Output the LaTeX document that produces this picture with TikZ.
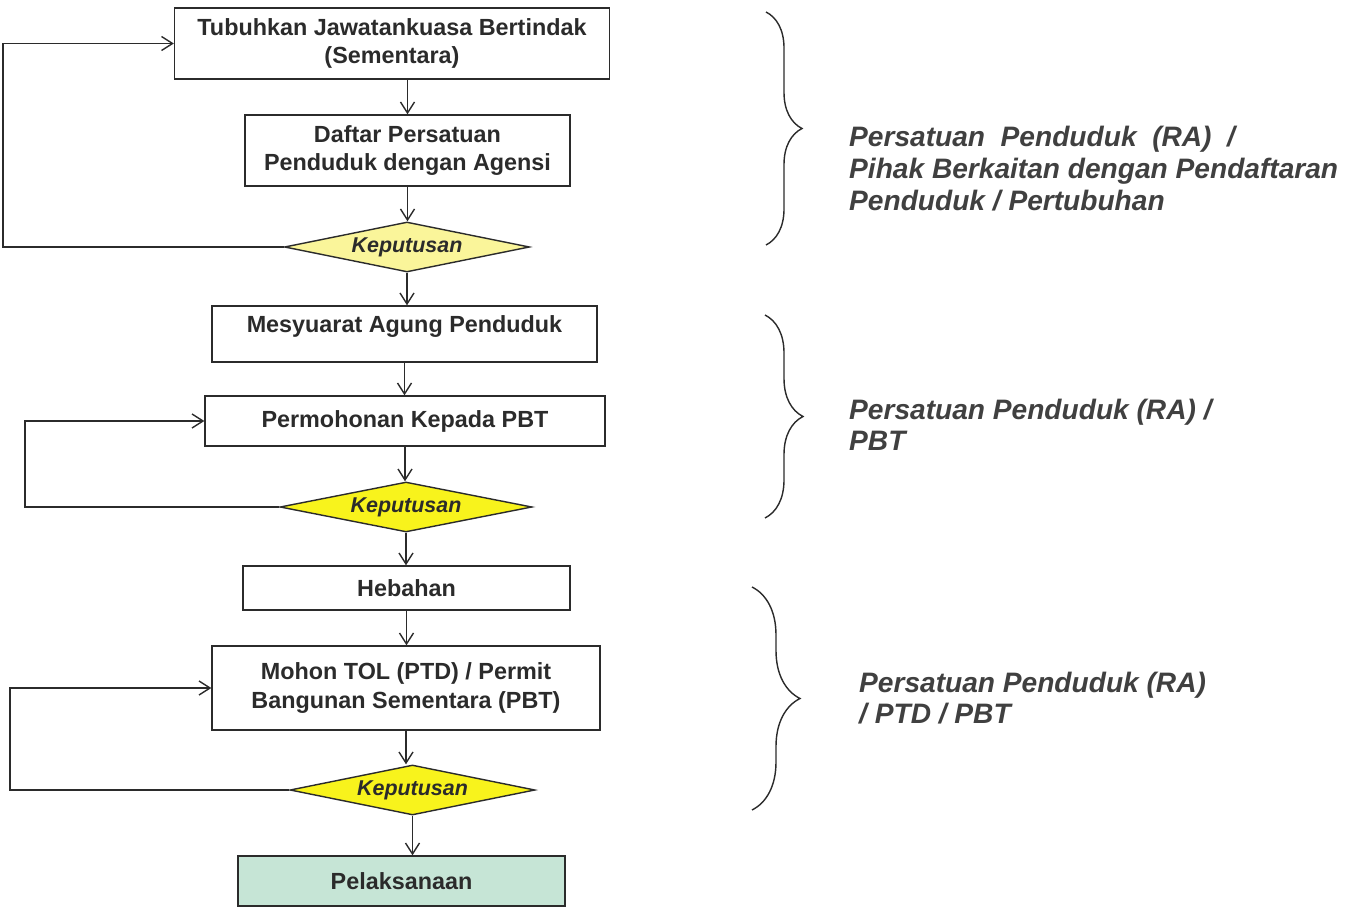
\documentclass[tikz,border=0pt]{standalone}
\usepackage{fontspec}
\setmainfont{Liberation Sans}
\usetikzlibrary{arrows.meta,shapes.geometric,decorations.pathreplacing}
\definecolor{ink}{HTML}{2B2B2B}
\definecolor{paleyellow}{HTML}{FAF59A}
\definecolor{brightyellow}{HTML}{F8F31C}
\definecolor{donefill}{HTML}{C6E5D6}

\begin{document}
\begin{tikzpicture}[
  x=0.02cm, y=-0.02cm,
  box/.style={draw=ink, line width=0.8pt, fill=white, text=ink, align=center, inner sep=0pt,
              font=\fontsize{13.3}{16}\selectfont\bfseries},
  decide/.style={diamond, draw=ink, line width=0.8pt, inner sep=0pt, aspect=4.9,
                 minimum width=4.9cm, minimum height=1cm, text=ink,
                 font=\fontsize{12.2}{14}\selectfont\bfseries\itshape},
  arrow/.style={-{Straight Barb[length=2.2mm,width=2.8mm]}, line width=0.8pt, draw=ink},
  loopline/.style={-{Straight Barb[length=2.2mm,width=2.8mm]}, line width=0.8pt, draw=ink},
  group/.style={text=ink!90, align=left, anchor=west,
                font=\fontsize{16}{18}\selectfont\bfseries\itshape},
  curly/.style={decorate, line width=0.8pt, draw=ink}
]
\useasboundingbox (0,0) rectangle (1361,908);

% ---------- Tahap 1 ----------
\node[box, minimum width=8.7cm, minimum height=1.42cm] (tubuh) at (392,43.5)
  {Tubuhkan Jawatankuasa Bertindak\\(Sementara)};
\node[box, minimum width=6.5cm, minimum height=1.42cm] (daftar) at (407.5,150.5)
  {Daftar Persatuan\\Penduduk dengan Agensi};
\node[decide, fill=paleyellow] (kep1) at (407,247) {Keputusan};

% ---------- Tahap 2 ----------
\node[box, minimum width=7.7cm, minimum height=1.12cm, text depth=0.4cm] (mesyuarat) at (404.5,334)
  {Mesyuarat Agung Penduduk};
\node[box, minimum width=8.0cm, minimum height=1.0cm] (mohonpbt) at (405,421)
  {Permohonan Kepada PBT};
\node[decide, fill=brightyellow, minimum width=5.04cm] (kep2) at (406,507) {Keputusan};

% ---------- Tahap 3 ----------
\node[box, minimum width=6.54cm, minimum height=0.88cm] (hebahan) at (406.5,588) {Hebahan};
\node[box, minimum width=7.76cm, minimum height=1.68cm] (mohontol) at (406,688)
  {Mohon TOL (PTD) / Permit\\Bangunan Sementara (PBT)};
\node[decide, fill=brightyellow] (kep3) at (412.5,790) {Keputusan};
\node[box, fill=donefill, minimum width=6.54cm, minimum height=1.0cm] (laksana) at (401.5,881)
  {Pelaksanaan};

% ---------- Anak panah ----------
\draw[arrow] (tubuh.south -| daftar.north) -- (daftar.north);
\draw[arrow] (daftar.south) -- (daftar.south |- kep1.north);
\draw[arrow] (kep1.south) -- (kep1.south |- mesyuarat.north);
\draw[arrow] (mesyuarat.south) -- (mesyuarat.south |- mohonpbt.north);
\draw[arrow] (mohonpbt.south) -- (mohonpbt.south |- kep2.north);
\draw[arrow] (kep2.south) -- (kep2.south |- hebahan.north);
\draw[arrow] (hebahan.south) -- (hebahan.south |- mohontol.north);
\draw[arrow] (mohontol.south) -- (mohontol.south |- kep3.north);
\draw[arrow] (kep3.south) -- (kep3.south |- laksana.north);

% ---------- Gelung balik ----------
\coordinate (balik1) at (3,0);
\coordinate (balik2) at (25,0);
\coordinate (balik3) at (10,0);
\draw[loopline] (kep1.west) -- (kep1.west -| balik1) |- (tubuh.west);
\draw[loopline] (kep2.west) -- (kep2.west -| balik2) |- (mohonpbt.west);
\draw[loopline] (kep3.west) -- (kep3.west -| balik3) |- (mohontol.west);

% ---------- Pihak terlibat ----------
\draw[curly, decoration={brace, amplitude=0.72cm}] (766,12) -- (766,245);
\draw[curly, decoration={brace, amplitude=0.76cm}] (765,315) -- (765,518);
\draw[curly, decoration={brace, amplitude=0.96cm}] (752,587) -- (752,810);

\node[group] (pihak1) at (843,168.5)
  {Persatuan\ \ Penduduk\ \ (RA)\ \ /\\Pihak Berkaitan dengan Pendaftaran\\Penduduk / Pertubuhan};
\node[group] (pihak2) at (843,425) {Persatuan Penduduk (RA) /\\PBT};
\node[group] (pihak3) at (853,698) {Persatuan Penduduk (RA)\\/ PTD / PBT};

\end{tikzpicture}
\end{document}
